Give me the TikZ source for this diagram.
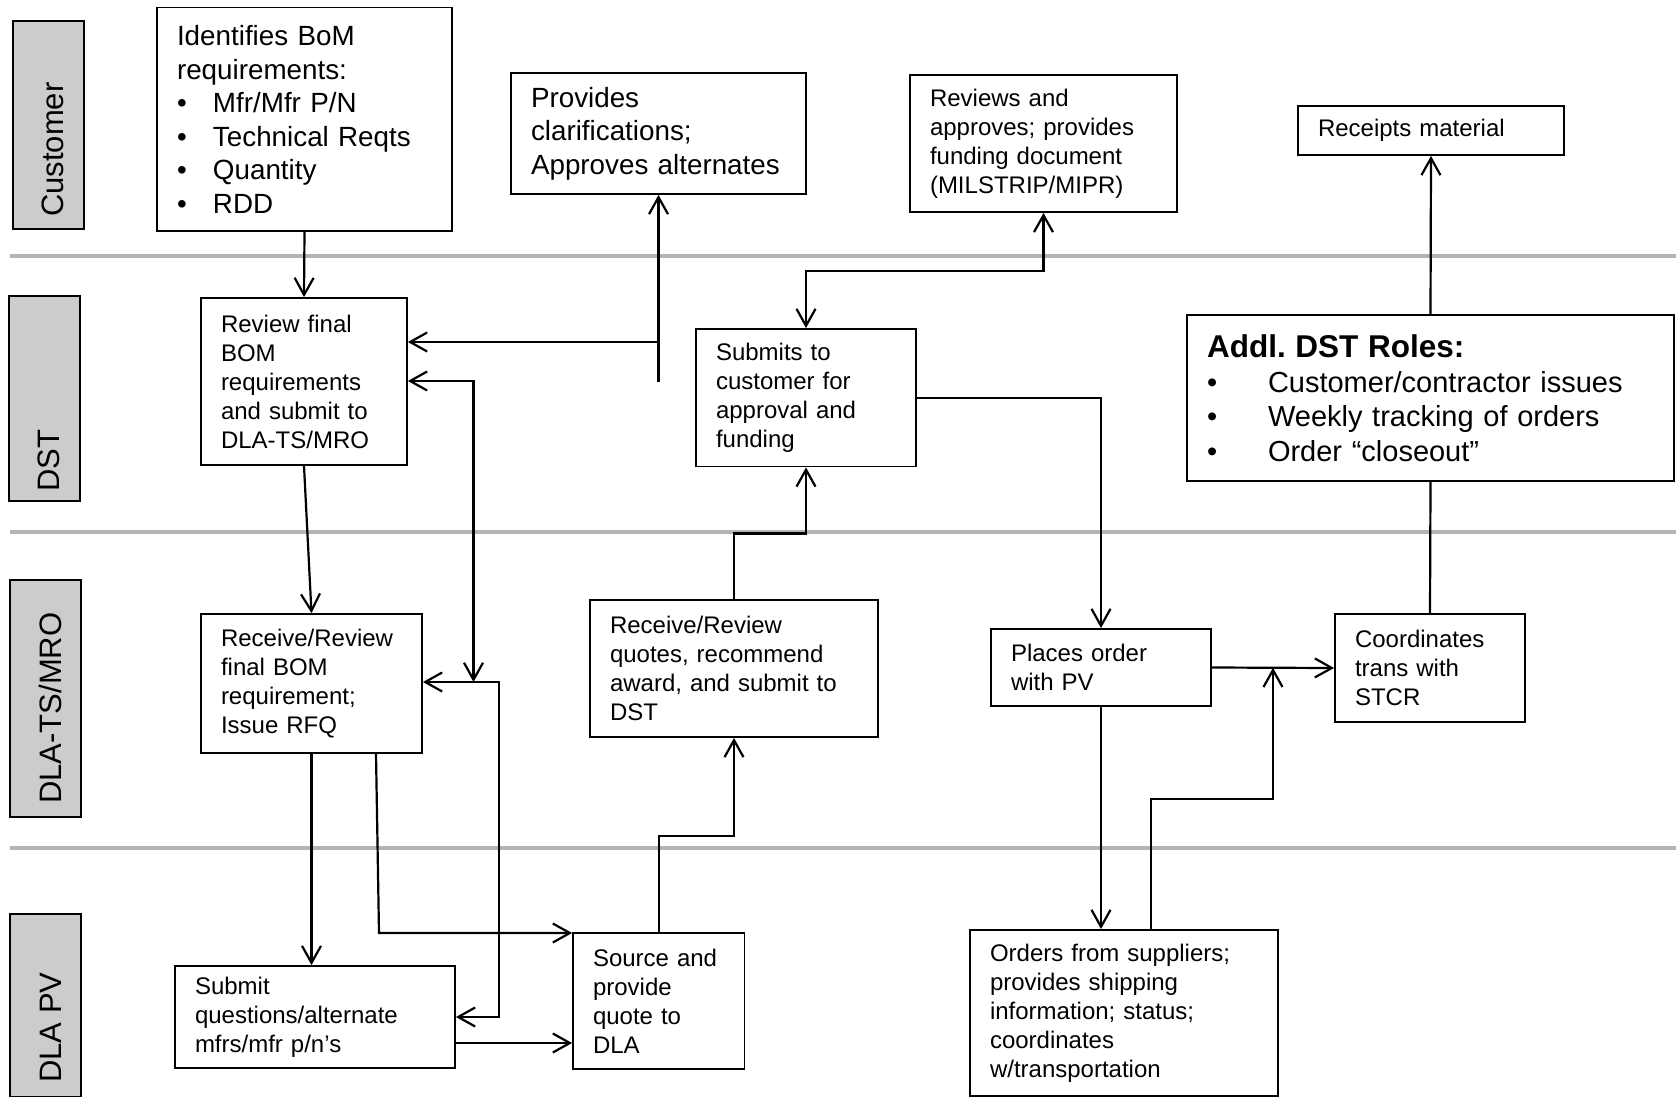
\documentclass[tikz,border=0pt]{standalone}
\usepackage{fontspec}
\setmainfont{Liberation Sans}
\usetikzlibrary{arrows.meta,calc}
\definecolor{lanefill}{HTML}{CCCCCC}
\definecolor{sepgray}{HTML}{B4B4B4}
\newcommand\bulA{\makebox[36pt][l]{\textbullet}}
\newcommand\bulB{\makebox[61pt][l]{\textbullet}}
\frenchspacing
\begin{document}
\begin{tikzpicture}[x=1pt,y=-1pt,
  >={Straight Barb[length=17pt,width=19pt]},
  box/.style={draw, line width=1.8pt, fill=white, inner xsep=20pt, inner ysep=0pt,
    align=left, font=\fontsize{24}{29}\selectfont},
  big/.style={font=\fontsize{27.8}{33.5}\selectfont},
  wh/.style 2 args={text width=#1, minimum height=#2},
  conn/.style={line width=2.2pt, line join=miter},
  lanebox/.style={draw, line width=2.5pt, fill=lanefill, inner sep=0pt, minimum width=71pt},
  lanetext/.style={rotate=90, anchor=base west, inner sep=0pt, font=\fontsize{31}{36}\selectfont},
  sep/.style={draw=sepgray, line width=4pt}
]
\useasboundingbox (0,0) rectangle (1676,1097);
\clip (0,0) rectangle (1676,1097);

% lane separators
\draw[sep] (10,256) -- (1676,256);
\draw[sep] (10,532) -- (1676,532);
\draw[sep] (10,848) -- (1676,848);

% lane labels
\node[lanebox, minimum height=208pt] (lcust) at (48.5,125) {};
\node[lanetext] (tcust) at (63,217) {Customer};
\node[lanebox, minimum height=205pt] (ldst) at (44.5,398.5) {};
\node[lanetext] (tdst) at (59.5,492) {DST};
\node[lanebox, minimum height=237pt] (lts) at (45.5,698.5) {};
\node[lanetext] (tts) at (61,804) {DLA-TS/MRO};
\node[lanebox, minimum height=183pt] (lpv) at (45.5,1005.5) {};
\node[lanetext] (tpv) at (61.5,1083) {DLA PV};

% boxes
\node[box, big, wh={255pt}{223.5pt}] (bom) at (304.5,119.25)
  {Identifies BoM\\requirements:\\\bulA Mfr/Mfr P/N\\\bulA Technical Reqts\\\bulA Quantity\\\bulA RDD};
\node[box, wh={166pt}{167pt}] (review) at (304,381.5)
  {Review final\\BOM\\requirements\\and submit to\\DLA-TS/MRO};
\node[box, big, wh={255pt}{121pt}] (provides) at (658.5,133.5)
  {Provides\\clarifications;\\Approves alternates};
\node[box, wh={227pt}{137pt}] (reviews) at (1043.5,143.5)
  {Reviews and\\approves; provides\\funding document\\(MILSTRIP/MIPR)};
\node[box, wh={180pt}{137.5pt}] (submits) at (806,397.75)
  {Submits to\\customer for\\approval and\\funding};
\node[box, wh={226pt}{49pt}] (receipts) at (1431,130.5)
  {Receipts material};
\node[box, wh={447pt}{166pt}, font=\fontsize{29}{34.5}\selectfont] (addl) at (1430.5,398)
  {{\bfseries\fontsize{31.5}{34.5}\selectfont Addl. DST Roles:}\\\bulB Customer/contractor issues\\\bulB Weekly tracking of orders\\\bulB Order “closeout”};
\node[box, wh={181pt}{139pt}] (receive) at (311.5,683.5)
  {Receive/Review\\final BOM\\requirement;\\Issue RFQ};
\node[box, wh={248pt}{137pt}] (quotes) at (734,668.5)
  {Receive/Review\\quotes, recommend\\award, and submit to\\DST};
\node[box, wh={180pt}{77pt}] (places) at (1101,667.5)
  {Places order\\with PV};
\node[box, wh={150pt}{108pt}] (coord) at (1430,668)
  {Coordinates\\trans with\\STCR};
\node[box, wh={240pt}{102pt}] (submitq) at (315,1017)
  {Submit\\questions/alternate\\mfrs/mfr p/n’s};
\node[box, wh={131.5pt}{136pt}] (source) at (658.75,1001)
  {Source and\\provide\\quote to\\DLA};
\node[box, wh={268pt}{166pt}] (orders) at (1124,1013)
  {Orders from suppliers;\\provides shipping\\information; status;\\coordinates\\w/transportation};

% helper coordinates
\coordinate (p1) at (658.5,382);
\coordinate (p2) at (658.5,342);
\coordinate (r1) at (473.5,381);
\coordinate (r2) at (473.5,682);
\coordinate (s1) at (499,682);
\coordinate (s2) at (499,1017);
\coordinate (q1) at (379,933);
\coordinate (u1) at (0,1043);
\coordinate (w1) at (1273,667.75);
\coordinate (w2) at (1273,799);

% connectors
\draw[conn,->] (bom.south) -- (review.north);
\draw[conn,->] (p1) -- (provides.south);
\draw[conn,->] (p2) -- (review.east |- p2);
\draw[conn,<->] (review.east |- r1) -- (r1) -- (r2);
\draw[conn,<->] (receive.east |- s1) -- (s1) -- (s2) -- (submitq.east |- s2);
\draw[conn,->] (review.south) -- (receive.north);
\draw[conn,->] (receive.south) -- (receive.south |- submitq.north);
\draw[conn,->] ($(receive.south)+(64.5,0)$) -- (q1) -- (source.west |- q1);
\draw[conn,->] (submitq.east |- u1) -- (source.west |- u1);
\draw[conn,->] (source.north) |- ($(quotes.south)+(0,98)$) -- (quotes.south);
\draw[conn,->] (quotes.north) |- ($(submits.south)+(0,66)$) -- (submits.south);
\draw[conn,<->] (submits.north) |- ($(reviews.south)+(0,58)$) -- (reviews.south);
\draw[conn,->] (submits.east) -| (places.north);
\draw[conn,->] (places.south) -- (places.south |- orders.north);
\draw[conn,->] ($(orders.north)+(27,0)$) |- (w2) -- (w1);
\draw[conn,->] (places.east) -- (coord.west);
\draw[conn] (coord.north) -- (addl.south);
\draw[conn,->] (addl.north) -- (receipts.south);
\end{tikzpicture}
\end{document}
